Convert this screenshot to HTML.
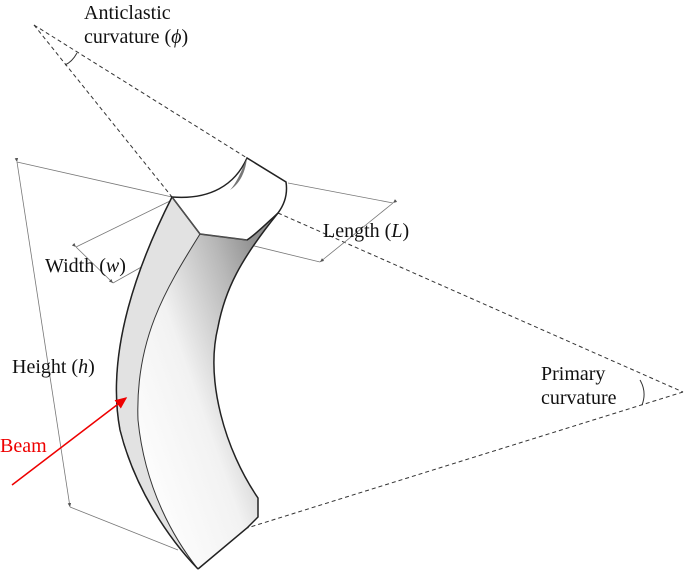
<!DOCTYPE html>
<html><head><style>
body{margin:0;background:#fff;}
svg{display:block}
text{font-family:"Liberation Serif",serif;font-size:20px;fill:#111}
</style></head><body>
<svg width="685" height="570" viewBox="0 0 685 570" xmlns="http://www.w3.org/2000/svg">
<defs>
<linearGradient id="g1" x1="0.2" y1="0.9" x2="0.9" y2="0.3">
<stop offset="0" stop-color="#fff"/><stop offset="0.45" stop-color="#f2f2f2"/><stop offset="0.8" stop-color="#b8b8b8"/><stop offset="1" stop-color="#909090"/>
</linearGradient>
<marker id="ar" markerWidth="6" markerHeight="6" refX="5" refY="3" orient="auto"><path d="M0,0.8 L5,3 L0,5.2z" fill="#555"/></marker>
<marker id="rr" markerWidth="8" markerHeight="8" refX="7" refY="4" orient="auto"><path d="M0,0.5 L8,4 L0,7.5z" fill="#e00"/></marker>
</defs>
<g stroke="#333" stroke-width="1" stroke-dasharray="4,3" fill="none">
<line x1="34" y1="25" x2="172" y2="197"/>
<line x1="34" y1="25" x2="247" y2="158"/>
<line x1="278" y1="213" x2="683" y2="392"/>
<line x1="683" y1="392" x2="247" y2="528"/>
</g>
<path d="M77,53 Q72,62 65,65" stroke="#333" fill="none"/>
<path d="M640,380 Q647,392 642,405" stroke="#333" fill="none"/>
<g stroke="#777" stroke-width="0.8" fill="none">
<line x1="17" y1="162" x2="172" y2="197"/>
<line x1="70" y1="507" x2="178" y2="550"/>
<line x1="76" y1="247" x2="172" y2="200"/>
<line x1="113" y1="283" x2="200" y2="234"/>
<line x1="288" y1="183" x2="393" y2="203"/>
<line x1="250" y1="245" x2="320" y2="262"/>
<line x1="17" y1="162" x2="70" y2="507" marker-start="url(#ar)" marker-end="url(#ar)"/>
<line x1="76" y1="247" x2="113" y2="283" marker-start="url(#ar)" marker-end="url(#ar)"/>
<line x1="393" y1="203" x2="320" y2="262" marker-start="url(#ar)" marker-end="url(#ar)"/>
</g>
<path d="M172,197 C140,260 105,350 120,430 C135,490 170,540 198,569 L247,528 L258,517 L258,498 C225,450 205,380 218,327 C225,290 240,260 283,205 L286,182 L247,158 C240,185 210,200 172,197 Z" fill="url(#g1)"/>
<path d="M172,197 C140,260 105,350 120,430 C135,490 170,540 198,569 C175,540 145,490 138,420 C135,340 165,290 200,234 Z" fill="#e2e2e2" stroke="#333" stroke-width="1"/>
<path d="M172,197 C210,200 235,185 247,158 L286,182 C288,195 284,205 278,213 C265,225 255,235 247,240 L200,234 Z" fill="#fff" stroke="#222" stroke-width="1.5"/>
<path d="M172,197 L200,234 L247,240" fill="none" stroke="#555" stroke-width="1"/>
<path d="M247,158 C240,175 235,185 230,190 C238,185 245,175 247,158" fill="#777"/>
<g fill="none" stroke="#222" stroke-width="1.5">
<path d="M172,197 C140,260 105,350 120,430 C135,490 170,540 198,569"/>
<path d="M198,569 L247,528 L258,517 L258,498 C225,450 205,380 218,327 C225,290 240,260 278,213"/>
</g>
<line x1="12" y1="485" x2="126" y2="398" stroke="#e00" stroke-width="1.5" marker-end="url(#rr)"/>
<text x="84" y="19">Anticlastic</text>
<text x="84" y="43">curvature (<tspan font-style="italic">ϕ</tspan>)</text>
<text x="323" y="237">Length (<tspan font-style="italic">L</tspan>)</text>
<text x="45" y="272">Width (<tspan font-style="italic">w</tspan>)</text>
<text x="12" y="373">Height (<tspan font-style="italic">h</tspan>)</text>
<text x="541" y="380">Primary</text>
<text x="541" y="404">curvature</text>
<text x="0" y="452" style="fill:#e00">Beam</text>
</svg>
</body></html>
